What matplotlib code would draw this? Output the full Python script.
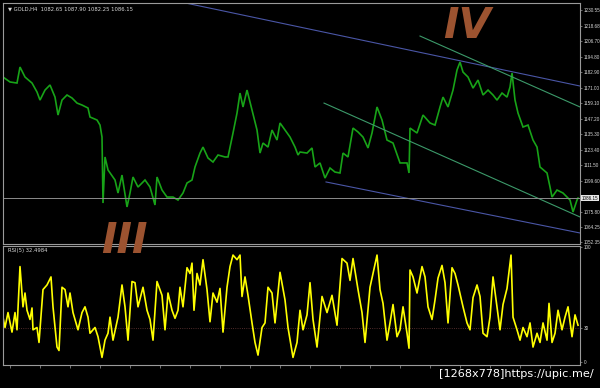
"""
gold_h4_rsi.py
GOLD H4 chart with trendlines and RSI(5) panel, MT4 style.
"""

import matplotlib

matplotlib.use("Agg")
import matplotlib.pyplot as plt

# price data (bar position, close)
bars = [3, 10, 17, 20, 25, 32, 37, 40, 45, 50, 55, 58, 62, 67, 72, 77, 82, 88, 90, 97,
        100, 102, 103, 105, 108, 115, 118, 122, 127, 130, 133, 138, 145, 150, 155, 157,
        162, 167, 173, 178, 183, 187, 192, 195, 200, 203, 208, 213, 218, 225, 228, 233,
        237, 240, 243, 247, 252, 257, 260, 263, 268, 272, 277, 280, 285, 290, 295, 298,
        300, 307, 312, 315, 320, 325, 330, 335, 340, 343, 348, 353, 358, 363, 368, 372,
        377, 382, 387, 393, 400, 407, 409, 410, 417, 423, 430, 435, 440, 443, 448, 453,
        457, 460, 463, 468, 473, 478, 483, 488, 493, 497, 502, 507, 510, 512, 515, 518,
        523, 528, 533, 537, 540, 547, 550, 552, 557, 563, 570, 573, 577, 578]
close = [1179.1, 1175.3, 1174.5, 1186.8, 1179.1, 1174.5, 1167.6, 1161.4, 1169.1, 1173.0,
         1163.7, 1149.9, 1161.4, 1165.3, 1163.0, 1159.1, 1157.6, 1155.3, 1148.4, 1146.1,
         1142.2, 1133.0, 1082.3, 1117.7, 1107.7, 1100.0, 1090.0, 1103.8, 1079.3, 1090.0,
         1102.3, 1094.6, 1100.0, 1094.6, 1080.8, 1102.3, 1092.3, 1086.9, 1086.9, 1084.6,
         1090.0, 1097.7, 1100.0, 1110.0, 1120.7, 1125.3, 1116.9, 1113.8, 1119.2, 1117.7,
         1117.7, 1136.1, 1151.4, 1166.8, 1156.1, 1169.1, 1153.8, 1138.4, 1120.7, 1128.4,
         1125.3, 1138.4, 1130.7, 1143.8, 1138.4, 1133.0, 1125.3, 1119.2, 1121.5, 1120.7,
         1124.6, 1110.0, 1113.1, 1101.5, 1109.2, 1106.1, 1105.4, 1120.7, 1117.7, 1139.9,
         1136.9, 1133.0, 1124.6, 1136.1, 1156.1, 1146.1, 1130.7, 1128.4, 1113.1, 1113.1,
         1105.4, 1139.9, 1136.1, 1149.9, 1143.8, 1142.2, 1156.1, 1163.7, 1156.1, 1169.1,
         1184.5, 1190.6, 1182.9, 1179.1, 1170.6, 1176.8, 1165.3, 1169.1, 1165.3, 1161.4,
         1166.8, 1163.7, 1171.4, 1182.2, 1161.4, 1151.4, 1140.7, 1142.2, 1130.7, 1125.3,
         1110.0, 1105.4, 1094.6, 1086.9, 1092.3, 1090.0, 1084.6, 1075.4, 1084.6, 1086.15]

# RSI(5)
rsi_bars = [3, 5, 8, 12, 15, 17, 20, 23, 25, 27, 30, 32, 33, 37, 39, 43, 47, 51, 53, 57,
            59, 62, 65, 68, 70, 73, 78, 82, 85, 88, 90, 95, 98, 102, 105, 108, 110, 113,
            118, 122, 125, 128, 132, 135, 138, 143, 147, 150, 153, 157, 162, 165, 168, 172,
            175, 178, 180, 183, 187, 190, 192, 194, 197, 200, 203, 207, 210, 213, 217, 220,
            223, 227, 230, 233, 237, 240, 242, 245, 248, 252, 255, 258, 262, 265, 268, 272,
            275, 280, 285, 288, 293, 297, 300, 303, 307, 310, 313, 317, 322, 327, 332, 337,
            342, 347, 350, 353, 358, 362, 365, 370, 377, 380, 383, 387, 390, 393, 397, 400,
            403, 407, 409, 410, 413, 417, 422, 425, 428, 432, 435, 438, 442, 445, 448, 452,
            455, 458, 463, 467, 470, 473, 477, 480, 483, 487, 490, 493, 497, 500, 503, 507,
            511, 513, 517, 520, 523, 527, 530, 533, 537, 540, 543, 547, 549, 552, 555, 558,
            562, 565, 568, 572, 575, 578]
rsi = [39, 30, 43, 26, 43, 28, 83, 48, 60, 45, 37, 47, 28, 30, 17, 63, 67, 74, 48, 13,
       10, 65, 63, 48, 60, 43, 28, 43, 48, 39, 25, 30, 22, 4, 19, 25, 39, 19,
       39, 67, 48, 19, 70, 69, 48, 65, 45, 37, 19, 70, 58, 28, 60, 45,
       38, 45, 65, 48, 82, 77, 86, 45, 77, 67, 89, 63, 35, 60, 52, 64,
       26, 65, 83, 93, 89, 93, 57, 74, 58, 34, 17, 6, 30, 34, 65, 60,
       34, 78, 54, 30, 4, 17, 45, 28, 41, 69, 37, 13, 57, 43, 58, 32,
       90, 86, 71, 90, 63, 43, 17, 65, 93, 63, 51, 19, 34, 50, 22, 28,
       48, 25, 12, 80, 74, 60, 83, 74, 48, 37, 54, 73, 84, 69, 34, 82,
       77, 67, 48, 34, 28, 56, 67, 57, 25, 22, 39, 74, 48, 28, 50, 64,
       93, 39, 28, 19, 30, 22, 34, 13, 25, 17, 34, 19, 51, 17, 25, 45,
       28, 39, 48, 22, 41, 32]

# trendline anchors (bar, price)
blue_upper = ([186, 580], [1235.9, 1172.2])
blue_lower = ([326, 580], [1098.5, 1059.3])
green_upper = ([420, 580], [1210.6, 1156.1])
green_lower = ([324, 580], [1159.1, 1071.6])

# 1087.70 sits under the current-price box, so it is not listed
price_ticks = [1230.55, 1218.68, 1206.70, 1194.80, 1182.90, 1171.00, 1159.10, 1147.20,
               1135.30, 1123.40, 1111.50, 1099.60, 1075.80, 1064.25, 1052.35]
rsi_ticks = [100, 30, 0]
last_price = 1086.15
header = "\u25bc GOLD,H4  1082.65 1087.90 1082.25 1086.15"
rsi_label = "RSI(5) 32.4984"

BG = "black"
FRAME = "#9a9a9a"
TXT = "#d8d8d8"
AXFONT = "Liberation Sans"

fig = plt.figure(figsize=(6, 3.88), dpi=100, facecolor=BG)
ax = fig.add_axes([0.005, 0.371, 0.9617, 0.621], facecolor=BG)
ax_rsi = fig.add_axes([0.005, 0.0593, 0.9617, 0.3067], facecolor=BG)

for a in (ax, ax_rsi):
    a.set_xlim(3, 580)
    for s in a.spines.values():
        s.set_color(FRAME)
        s.set_linewidth(0.8)
    a.yaxis.tick_right()
    a.tick_params(axis="y", colors=FRAME, labelcolor=TXT, labelsize=3.3,
                  length=1.5, width=0.5, pad=1)

# main price panel
ax.set_ylim(1050.8, 1235.9)
ax.plot(bars, close, color="#18a318", lw=1.2, solid_joinstyle="miter")
for xs, ys in (blue_upper, blue_lower):
    ax.plot(xs, ys, color="#4a56a6", lw=0.8)
for xs, ys in (green_upper, green_lower):
    ax.plot(xs, ys, color="#3c9a6a", lw=0.8)
ax.axhline(last_price, color="#8c8c8c", lw=0.7)
ax.set_yticks(price_ticks)
ax.set_yticklabels([f"{p:.2f}" for p in price_ticks], family=AXFONT)
ax.set_xticks([])
ax.text(1.003, last_price, f"{last_price:.2f}", transform=ax.get_yaxis_transform(),
        fontsize=3.3, family=AXFONT, color="black", va="center", ha="left",
        bbox=dict(boxstyle="square,pad=0.2", fc="#e8e8e8", ec="none"))
ax.text(0.008, 0.985, header, transform=ax.transAxes, fontsize=3.8, color=TXT,
        va="top", ha="left")

# RSI panel
ax_rsi.set_ylim(-2.6, 100.9)
ax_rsi.axhline(30, color="#6b3a3a", lw=0.6, ls=":")
ax_rsi.plot(rsi_bars, rsi, color="#ffff00", lw=1.2)
ax_rsi.set_yticks(rsi_ticks)
ax_rsi.set_yticklabels([str(t) for t in rsi_ticks], family=AXFONT)
ax_rsi.set_xticks(range(10, 580, 30))
ax_rsi.tick_params(axis="x", colors=FRAME, length=2, width=0.5, labelbottom=False)
ax_rsi.text(0.008, 0.985, rsi_label, transform=ax_rsi.transAxes, fontsize=3.8,
            color=TXT, va="top", ha="left")

# hand-drawn wave labels
fig.text(0.208, 0.379, "III", fontsize=30, fontweight="bold", style="italic",
         color="#9c5330", ha="center", va="center")
fig.text(0.778, 0.934, "IV", fontsize=30, fontweight="bold", style="italic",
         color="#9c5330", ha="center", va="center")

fig.text(0.99, 0.022, "[1268x778]https://upic.me/", fontsize=8.1, color="white",
         ha="right", va="bottom")

fig.savefig("out.png", dpi=100, facecolor=BG)
